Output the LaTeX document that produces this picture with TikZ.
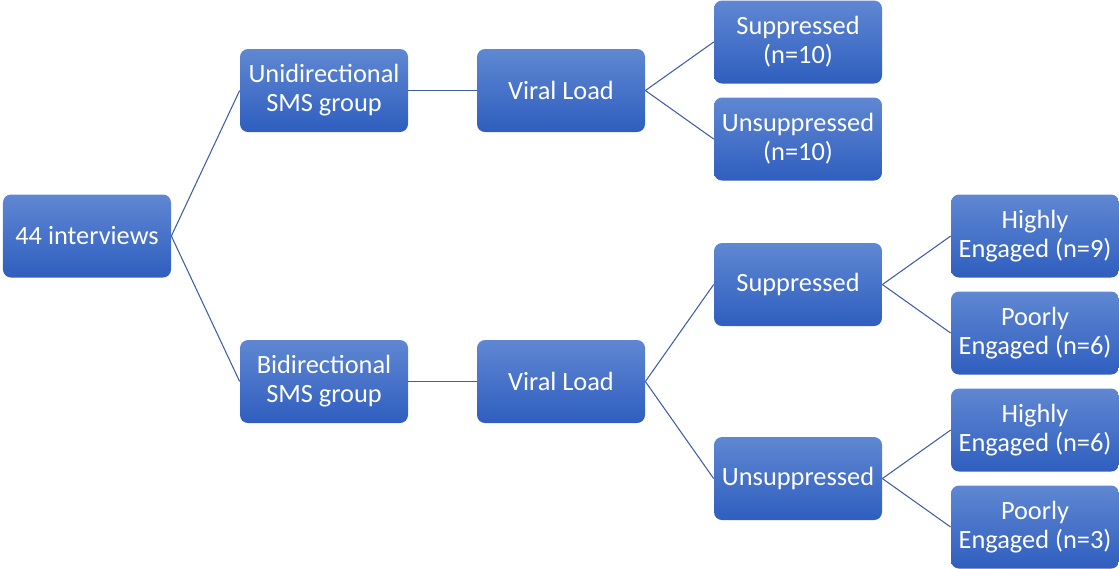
\documentclass[tikz,border=0pt]{standalone}
\usepackage{fontspec}
\setmainfont{Carlito}
\usepackage{tikz-qtree,tikz-qtree-compat}
\definecolor{boxtop}{HTML}{5F87D2}
\definecolor{boxbottom}{HTML}{2F5EBF}
\definecolor{linkblue}{HTML}{3D5DA9}

\begin{document}
\begin{tikzpicture}[grow'=right, level distance=4.74cm, sibling distance=0.28cm,
    every tree node/.style={anchor=west, rounded corners=0.16cm, top color=boxtop, bottom color=boxbottom, text=white, align=center, minimum width=3.36cm, minimum height=1.66cm, inner sep=0.08cm, font=\fontsize{15pt}{16.5pt}\selectfont},
    edge from parent/.style={draw=linkblue, line width=0.6pt, edge from parent path={(\tikzparentnode.east) -- (\tikzchildnode.west)}}]
        \Tree
        [.\node(root){44 interviews};
          [.{Unidirectional\\SMS group}
            [.{Viral Load}
              [.{Suppressed\\(n=10)} ]
              [.{Unsuppressed\\(n=10)} ]
            ]
          ]
          [.{Bidirectional\\SMS group}
            [.{Viral Load}
              [.{Suppressed}
                [.{Highly\\Engaged (n=9)} ]
                [.{Poorly\\Engaged (n=6)} ]
              ]
              [.{Unsuppressed}
                [.{Highly\\Engaged (n=6)} ]
                [.{Poorly\\Engaged (n=3)} ]
              ]
            ]
          ]
        ]
        \pgfresetboundingbox
        \useasboundingbox (root.center) ++(-1.74,4.72) rectangle ++(22.38,-11.36);
      \end{tikzpicture}
\end{document}
